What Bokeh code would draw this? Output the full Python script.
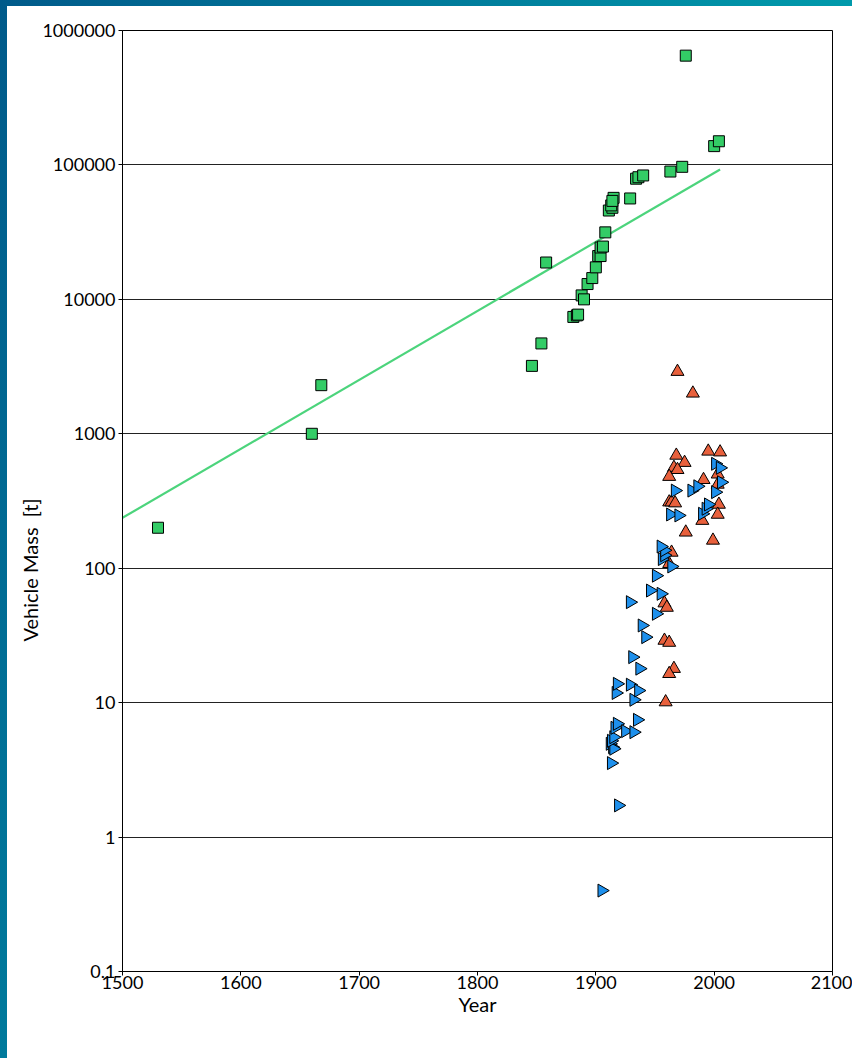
import numpy as np
from bokeh.plotting import figure
from bokeh.models import FixedTicker, GlobalInlineStyleSheet, Title
from bokeh.embed import file_html
from bokeh.resources import INLINE

# ---- data ----
sq_year = [1530, 1660, 1668, 1846, 1854, 1858, 1881, 1884, 1885, 1888, 1890, 1893,
           1897, 1900, 1902, 1904, 1904, 1906, 1908, 1911, 1914, 1913, 1915, 1914,
           1929, 1934, 1936, 1940, 1963, 1973, 1976, 2000, 2004]
sq_mass = [200, 1000, 2300, 3200, 4700, 18800, 7400, 7600, 7700, 10700, 10000, 13000,
           14400, 17300, 21000, 21000, 24300, 24700, 31500, 45800, 48000, 50000, 56900, 54000,
           56300, 79000, 81000, 83500, 89300, 96800, 650000, 138000, 150000]

tri_year = [1969, 1982, 1968, 1975, 1995, 2005, 1966, 1969, 1962, 1991, 2003, 2003,
            1962, 1964, 1967, 2004, 2003, 1990, 1976, 1999, 1964, 1962, 1958, 1960,
            1958, 1962, 1966, 1962, 1959]
tri_mass = [2900, 2000, 690, 610, 740, 730, 560, 540, 480, 455, 500, 420,
            310, 310, 305, 298, 251, 226, 185, 161, 131, 108, 55, 51,
            29, 28, 17.9, 16.4, 10.1]

rt_year = [1905, 1913, 1919, 1912, 1914, 1915, 1913, 1915, 1916, 1918, 1925, 1932,
           1935, 1932, 1917, 1918, 1929, 1936, 1937, 1931, 1942, 1939, 1951, 1929,
           1955, 1946, 1951, 1964, 1956, 1958, 1958, 1955, 1963, 1970, 1967, 1981,
           1986, 1990, 1993, 1995, 2001, 2006, 2001, 2005]
rt_mass = [0.4, 3.55, 1.72, 4.94, 4.66, 4.54, 5.2, 5.53, 6.5, 6.96, 6.14, 6.03,
           7.45, 10.5, 11.8, 13.8, 13.6, 12.3, 17.9, 21.8, 30.7, 37.5, 45.8, 55.9,
           64.5, 68.2, 88, 103, 117, 125, 136, 145, 251, 247, 378, 378,
           407, 254, 277, 298, 368, 436, 598, 558]

trend_year = [1500, 2005]
trend_mass = [237, 92500]

x_ticks = [1500, 1600, 1700, 1800, 1900, 2000, 2100]
y_ticks = [0.1, 1, 10, 100, 1000, 10000, 100000, 1000000]
y_tick_labels = ["0.1", "1", "10", "100", "1000", "10000", "100000", "1000000"]

x_title = "Year"
y_title = "Vehicle Mass\u00a0\u00a0[t]"

FONT = "Lato"

p = figure(width=852, height=1056, x_range=(1500, 2100), y_range=(0.1, 1e6),
           y_axis_type="log", output_backend="svg", toolbar_location=None,
           min_border_left=122, min_border_right=20, min_border_top=30,
           min_border_bottom=85)

p.background_fill_color = "white"
p.border_fill_color = None
p.outline_line_color = "black"
p.outline_line_width = 1

p.xgrid.visible = False
p.ygrid.ticker = FixedTicker(ticks=y_ticks)
p.ygrid.grid_line_color = "#222222"
p.ygrid.grid_line_width = 1

p.xaxis.ticker = FixedTicker(ticks=x_ticks)
p.yaxis.ticker = FixedTicker(ticks=y_ticks)
p.yaxis.major_label_overrides = {(int(t) if t >= 1 else t): lab for t, lab in zip(y_ticks, y_tick_labels)}

for ax in (p.xaxis[0], p.yaxis[0]):
    ax.axis_line_color = "black"
    ax.major_tick_line_color = "black"
    ax.minor_tick_line_color = None
    ax.major_tick_in = 0
    ax.major_tick_out = 4
    ax.major_label_text_font = FONT
    ax.major_label_text_font_size = "18px"
    ax.major_label_text_color = "black"
p.xaxis.major_label_standoff = 0
p.yaxis.major_label_standoff = 3

p.xaxis.axis_label = x_title
p.xaxis.axis_label_text_font = FONT
p.xaxis.axis_label_text_font_size = "20px"
p.xaxis.axis_label_text_font_style = "normal"
p.xaxis.axis_label_text_color = "black"
p.xaxis.axis_label_standoff = 0

# y title as a side title so it can sit below the centre like the reference
p.add_layout(Title(text=y_title, align="left", offset=330, standoff=-5,
                   text_font=FONT, text_font_size="20px", text_font_style="normal",
                   text_color="black"), "left")

p.line(trend_year, trend_mass, line_color="#4cd47c", line_width=2.2)

p.scatter(sq_year, sq_mass, marker="square", size=11, fill_color="#33cc66",
          line_color="black", line_width=1)
p.scatter(tri_year, tri_mass, marker="triangle", size=13, fill_color="#e8603c",
          line_color="black", line_width=1)
p.scatter(rt_year, rt_mass, marker="triangle", angle=-np.pi / 2, size=13,
          fill_color="#1e90ec", line_color="black", line_width=1)

css = """
html {
  background:
    linear-gradient(to right, #005a8a, #009aab) 0 0 / 100% 6px no-repeat,
    linear-gradient(to bottom, #005a8a, #007a9c) 0 0 / 7px 100% no-repeat,
    #ffffff;
  min-height: 100%;
}
body { background: transparent; }
"""
p.stylesheets = [GlobalInlineStyleSheet(css=css)]

open("out.html", "w").write(file_html(p, INLINE))
